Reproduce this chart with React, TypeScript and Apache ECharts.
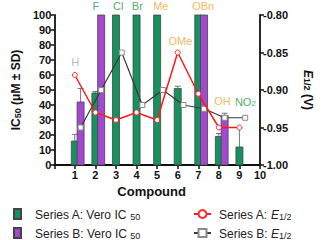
import React, { useEffect, useRef } from "react";
import * as echarts from "echarts";

const compounds = [1, 2, 3, 4, 5, 6, 7, 8, 9];
const icA = [16, 48, 100, 100, 100, 51, 100, 19, 12];
const icAErr = [4.4, 1, 0, 0, 0, 1.5, 0, 2, 13];
const icB: (number | null)[] = [42, 100, null, null, null, null, 100, 33, null];
const icBErr = [9, 0, 0, 0, 0, 0, 0, 1.5, 0];
const e12A = [-0.88, -0.93, -0.94, -0.93, -0.94, -0.85, -0.905, -0.95, -0.95];
const e12B = [-0.95, -0.9, -0.85, -0.92, -0.9, -0.92, -0.925, -0.937, -0.937];
const xTicks = [0, 1, 2, 3, 4, 5, 6, 7, 8, 9, 10];
const annotations = [
  { name: "H", x: 1.02, y: 68.7, color: "#a8a8a8" },
  { name: "F", x: 2.02, y: 105.7, color: "#23963f" },
  { name: "Cl", x: 3.11, y: 105.7, color: "#23963f" },
  { name: "Br", x: 4.04, y: 105.7, color: "#23963f" },
  { name: "Me", x: 5.18, y: 105.7, color: "#f7a030" },
  { name: "OMe", x: 6.13, y: 82.7, color: "#f7a030" },
  { name: "OBn", x: 7.24, y: 105.7, color: "#f7a030" },
  { name: "OH", x: 8.18, y: 42.7, color: "#f7a030" },
  { name: "NO2", x: 9.29, y: 42.7, color: "#23963f" },
];

const GREEN = "#15925e";
const PURPLE = "#a448d2";
const FONT = "'Liberation Sans', Arial, sans-serif";
const B_OFFSET = 0.28;

function barSeries(name: string, vals: (number | null)[], errs: number[], color: string, offset: number) {
  return {
    name,
    type: "custom",
    xAxisIndex: 0,
    yAxisIndex: 0,
    z: 2,
    itemStyle: { color, borderColor: "#444", borderWidth: 0.8 },
    data: compounds
      .map((c, i) => (vals[i] == null ? null : [c, vals[i], errs[i]]))
      .filter((d) => d != null),
    renderItem: (params: any, api: any) => {
      const x = api.value(0) + offset;
      const y = api.value(1);
      const err = api.value(2);
      const base = api.coord([x, 0]);
      const top = api.coord([x, y]);
      const w = 7;
      const children: any[] = [
        {
          type: "rect",
          shape: { x: base[0] - w / 2, y: top[1], width: w, height: base[1] - top[1] },
          style: { fill: color, stroke: "#444", lineWidth: 0.8 },
        },
      ];
      if (err > 0) {
        const e = api.coord([x, y + err]);
        children.push({
          type: "line",
          shape: { x1: top[0], y1: top[1], x2: e[0], y2: e[1] },
          style: { stroke: "#777", lineWidth: 1 },
        });
        children.push({
          type: "line",
          shape: { x1: e[0] - 3, y1: e[1], x2: e[0] + 3, y2: e[1] },
          style: { stroke: "#777", lineWidth: 1 },
        });
      }
      return { type: "group", children };
    },
  };
}

function legendRich(gap: number) {
  return {
    sp: { width: gap },
    t: { fontFamily: FONT, fontSize: 12, color: "#222", lineHeight: 14, verticalAlign: "bottom" },
    ti: { fontFamily: FONT, fontSize: 12, fontStyle: "italic", color: "#222", lineHeight: 14, verticalAlign: "bottom" },
    sub: { fontFamily: FONT, fontSize: 9, color: "#222", lineHeight: 14, verticalAlign: "bottom", padding: [5, 0, 0, 0] },
  };
}

export default function App() {
  const ref = useRef<HTMLDivElement>(null);
  useEffect(() => {
    if (!ref.current) return;
    const chart = echarts.init(ref.current, null, { renderer: "svg" });
    const axisLabel = { fontFamily: FONT, fontWeight: "bold", fontSize: 11, color: "#111" };
    const axisLine = { show: true, lineStyle: { color: "#111", width: 1.8 } };
    const axisTick = { show: true, length: 4, lineStyle: { color: "#111", width: 1.5 } };
    const legendText: Record<string, string> = {
      "Series A: Vero IC50": "{sp|}{t|Series A: Vero IC }{sub|50}",
      "Series B: Vero IC50": "{sp|}{t|Series B: Vero IC }{sub|50}",
      "Series A: E1/2": "{sp|}{t|Series A: }{ti|E}{sub|1/2}",
      "Series B: E1/2": "{sp|}{t|Series B: }{ti|E}{sub|1/2}",
    };
    chart.setOption({
      animation: false,
      backgroundColor: "#fff",
      textStyle: { fontFamily: FONT },
      grid: { left: 42, right: 57, top: 15, bottom: 75, containLabel: false },
      legend: [
        {
          data: ["Series A: Vero IC50", "Series B: Vero IC50"],
          orient: "vertical",
          left: 13,
          top: 207,
          height: 40,
          padding: 0,
          itemWidth: 7,
          itemHeight: 10,
          itemGap: 5,
          icon: "rect",
          formatter: (n: string) => legendText[n],
          textStyle: { rich: legendRich(9) },
        },
        {
          data: ["Series A: E1/2", "Series B: E1/2"],
          orient: "vertical",
          left: 193,
          top: 207,
          height: 40,
          padding: 0,
          itemWidth: 17,
          itemHeight: 10,
          itemGap: 5,
          formatter: (n: string) => legendText[n],
          textStyle: { rich: legendRich(3) },
        },
      ],
      xAxis: {
        type: "value",
        min: xTicks[0],
        max: xTicks[xTicks.length - 1],
        interval: 1,
        axisLine,
        axisTick,
        splitLine: { show: false },
        axisLabel: { ...axisLabel, margin: 4, formatter: (v: number) => (v === 0 ? "" : String(v)) },
        name: "Compound",
        nameLocation: "middle",
        nameGap: 18,
        nameTextStyle: { fontFamily: FONT, fontWeight: "bold", fontSize: 13, color: "#111", padding: [0, 11, 0, 0] },
      },
      yAxis: [
        {
          type: "value",
          min: 0,
          max: 100,
          interval: 10,
          position: "left",
          axisLine,
          axisTick,
          splitLine: { show: false },
          axisLabel: { ...axisLabel, margin: 3 },
          name: "{m|IC}{s|50}{m| (μM ± SD)}",
          nameLocation: "middle",
          nameGap: 27,
          nameRotate: 90,
          nameTextStyle: {
            rich: {
              m: { fontFamily: FONT, fontWeight: "bold", fontSize: 12, color: "#111", lineHeight: 16, verticalAlign: "bottom" },
              s: { fontFamily: FONT, fontWeight: "bold", fontSize: 9, color: "#111", lineHeight: 16, verticalAlign: "bottom", padding: [5, 0, 0, 0] },
            },
          },
        },
        {
          type: "value",
          min: -1,
          max: -0.8,
          interval: 0.05,
          position: "right",
          axisLine,
          axisTick,
          splitLine: { show: false },
          axisLabel: { ...axisLabel, margin: 3, formatter: (v: number) => v.toFixed(2) },
          name: "{e|E}{s|1/2}{m| (V)}",
          nameLocation: "middle",
          nameGap: 42,
          nameRotate: -90,
          nameTextStyle: {
            rich: {
              e: { fontFamily: FONT, fontWeight: "bold", fontStyle: "italic", fontSize: 12, color: "#111", lineHeight: 16, verticalAlign: "bottom" },
              m: { fontFamily: FONT, fontWeight: "bold", fontSize: 12, color: "#111", lineHeight: 16, verticalAlign: "bottom" },
              s: { fontFamily: FONT, fontWeight: "bold", fontSize: 9, color: "#111", lineHeight: 16, verticalAlign: "bottom", padding: [5, 0, 0, 0] },
            },
          },
        },
      ],
      series: [
        barSeries("Series A: Vero IC50", icA, icAErr, GREEN, 0),
        barSeries("Series B: Vero IC50", icB, icBErr, PURPLE, B_OFFSET),
        {
          name: "Series A: E1/2",
          type: "line",
          yAxisIndex: 1,
          z: 4,
          data: compounds.map((c, i) => [c, e12A[i]]),
          symbol: "circle",
          symbolSize: 5,
          itemStyle: { color: "#fff", borderColor: "#ff2a2a", borderWidth: 1 },
          lineStyle: { color: "#ff1a1a", width: 1.5 },
          color: "#ff1a1a",
        },
        {
          name: "Series B: E1/2",
          type: "line",
          yAxisIndex: 1,
          z: 3,
          data: compounds.map((c, i) => [c + B_OFFSET, e12B[i]]),
          symbol: "rect",
          symbolSize: 5,
          itemStyle: { color: "#fff", borderColor: "#8a8a8a", borderWidth: 1 },
          lineStyle: { color: "#3a3a3a", width: 1.2 },
          color: "#555",
        },
        {
          name: "labels",
          type: "scatter",
          yAxisIndex: 0,
          clip: false,
          z: 5,
          symbolSize: 0,
          silent: true,
          data: annotations.map((a) => ({
            name: a.name,
            value: [a.x, a.y],
            label: { color: a.color },
          })),
          label: {
            show: true,
            position: "inside",
            fontFamily: FONT,
            fontSize: 11,
            formatter: (p: any) => (p.name === "NO2" ? "{n|NO}{s|2}" : p.name),
            rich: {
              n: { fontFamily: FONT, fontSize: 11, color: "#23963f", verticalAlign: "bottom", lineHeight: 13 },
              s: { fontFamily: FONT, fontSize: 8, color: "#23963f", verticalAlign: "bottom", lineHeight: 13, padding: [4, 0, 0, 0] },
            },
          },
        },
      ],
    });
    return () => chart.dispose();
  }, []);
  return <div ref={ref} style={{ position: "fixed", left: 0, top: 0, width: 324, height: 240 }} />;
}
